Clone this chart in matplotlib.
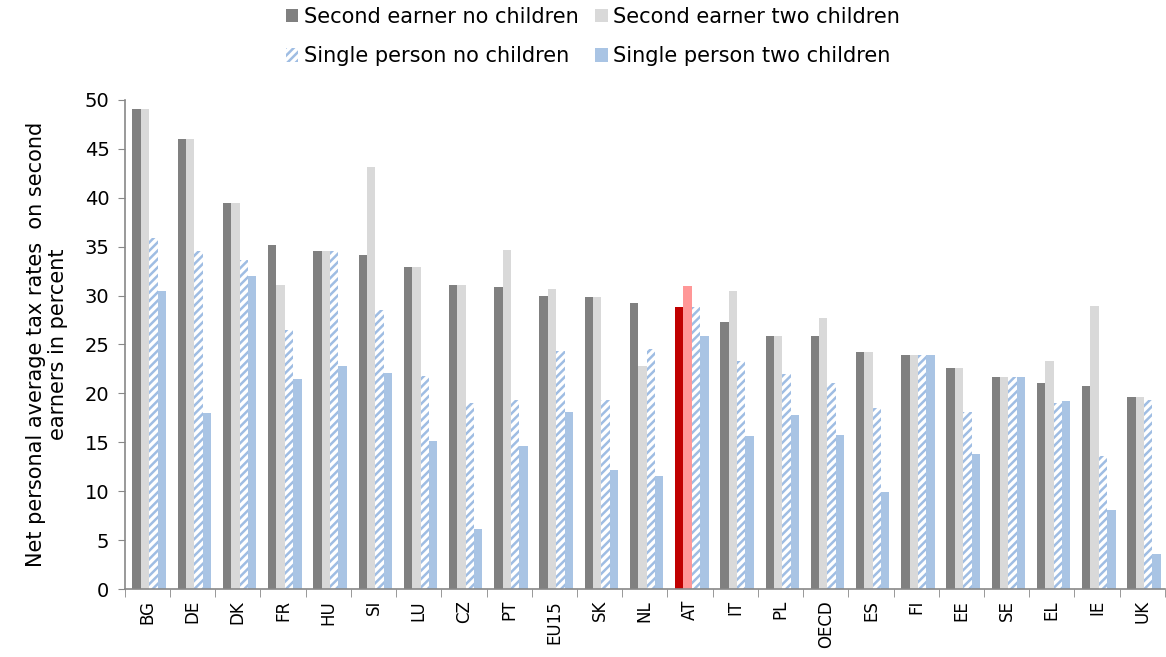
import matplotlib.pyplot as plt
import numpy as np

plt.rcParams['font.family'] = ['DejaVu Sans']
plt.rcParams['hatch.linewidth'] = 1.8

countries = ['BG', 'DE', 'DK', 'FR', 'HU', 'SI', 'LU', 'CZ', 'PT', 'EU15', 'SK', 'NL',
             'AT', 'IT', 'PL', 'OECD', 'ES', 'FI', 'EE', 'SE', 'EL', 'IE', 'UK']
second_no_children = [49.1, 46.0, 39.5, 35.2, 34.5, 34.1, 32.9, 31.1, 30.9, 30.0, 29.8, 29.2,
                      28.8, 27.3, 25.9, 25.9, 24.2, 23.9, 22.6, 21.7, 21.1, 20.8, 19.6]
second_two_children = [49.1, 46.0, 39.5, 31.1, 34.5, 43.1, 32.9, 31.1, 34.7, 30.7, 29.8, 22.8,
                       31.0, 30.5, 25.9, 27.7, 24.2, 23.9, 22.6, 21.7, 23.3, 28.9, 19.6]
single_no_children = [35.9, 34.5, 33.6, 26.5, 34.5, 28.5, 21.8, 19.0, 19.3, 24.3, 19.3, 24.5,
                      28.8, 23.3, 22.0, 21.1, 18.5, 23.9, 18.1, 21.7, 19.0, 13.6, 19.3]
single_two_children = [30.5, 18.0, 32.0, 21.5, 22.8, 22.1, 15.1, 6.1, 14.6, 18.1, 12.2, 11.5,
                       25.9, 15.6, 17.8, 15.7, 9.9, 23.9, 13.8, 21.7, 19.2, 8.1, 3.6]

dark = '#808080'
light = '#d9d9d9'
blue = '#a9c4e4'
hatch_blue = '#9fbde3'

x = np.arange(len(countries))
w = 0.185

c1 = [dark] * len(countries)
c2 = [light] * len(countries)
at = countries.index('AT')
c1[at] = '#c00000'
c2[at] = '#ff9797'

fig = plt.figure(figsize=(11.66, 6.57), dpi=100)
ax = fig.add_axes([0.107, 0.1035, 0.892, 0.7445])

b1 = ax.bar(x - 1.5 * w + 0.04, second_no_children, w, color=c1, label='Second earner no children')
b2 = ax.bar(x - 0.5 * w + 0.04, second_two_children, w, color=c2, label='Second earner two children')
b3 = ax.bar(x + 0.5 * w + 0.04, single_no_children, w, color='white', edgecolor=hatch_blue,
            hatch='////', linewidth=0, label='Single person no children')
b4 = ax.bar(x + 1.5 * w + 0.04, single_two_children, w, color=blue, label='Single person two children')

ax.set_xlim(-0.5, len(countries) - 0.5)
ax.set_ylim(0, 50)
ax.set_yticks(np.arange(0, 51, 5))
ax.set_xticks(x)
ax.set_xticklabels(countries, rotation=90, fontsize=12)
ax.set_xticks(np.arange(-0.5, len(countries), 1), minor=True)
ax.tick_params(axis='x', which='major', length=0, pad=8)
ax.tick_params(axis='x', which='minor', length=6, color='#888888', direction='out')
ax.tick_params(axis='y', length=5, color='#888888', labelsize=14, pad=6)

for s in ['top', 'right']:
    ax.spines[s].set_visible(False)
for s in ['left', 'bottom']:
    ax.spines[s].set_color('#888888')
    ax.spines[s].set_linewidth(1.2)

ax.set_ylabel('Net personal average tax rates  on second\nearners in percent',
              fontsize=15, linespacing=1.1, labelpad=12)

# column-major fill, so interleave to get the pairs on rows
handles = [b1, b3, b2, b4]
labels = [h.get_label() for h in handles]
ax.legend(handles, labels, loc='lower center', bbox_to_anchor=(0.45, 1.03), ncol=2,
          frameon=False, fontsize=15, handlelength=0.6, handleheight=0.6,
          handletextpad=0.25, columnspacing=0.8, labelspacing=0.95)

fig.savefig('out.png', dpi=100)
